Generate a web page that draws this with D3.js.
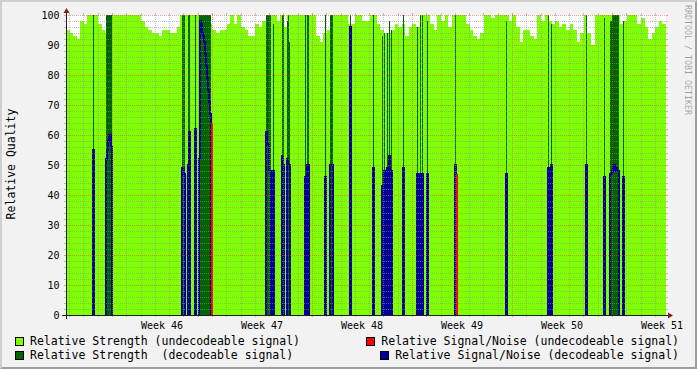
<!DOCTYPE html>
<html>
<head>
<meta charset="utf-8">
<script src="https://cdn.jsdelivr.net/npm/d3@7"></script>
<style>
  html, body { margin: 0; padding: 0; background: #f2f2f2; }
  svg { display: block; }
  text { font-family: "DejaVu Sans Mono", monospace; fill: #000; }
</style>
</head>
<body>
<svg id="graph" width="697" height="369"></svg>
<script>
// first sample of the graph (UTC), all data times are hours after this
var startTime = Date.UTC(2012, 10, 8, 18, 42);
var spanHours = 1008;

// relative strength while the signal was not decodeable, one value every 6 hours
var strengthStepHours = 6;
var strengthUndecodeable = [
  95, 94, 93, 92, 98, 97, 100, 100, 100, 97, 95, 94, 100, 100, 100, 100, 100, 100, 100, 100, 100, 98, 96, 95, 94, 94, 93, 95,
  95, 94, 94, 96, 100, 100, 100, 100, 100, 100, 100, 100, 97, 95, 94, 95, 95, 97, 100, 97, 100, 96, 95, 93, 93, 97, 96, 98,
  100, 100, 100, 98, 100, 96, 100, 100, 100, 100, 100, 100, 100, 100, 93, 91, 94, 95, 100, 100, 100, 100, 100, 97, 97, 100, 100, 98,
  98, 100, 100, 97, 95, 94, 94, 95, 97, 96, 97, 93, 96, 97, 96, 100, 100, 100, 97, 95, 100, 98, 100, 96, 100, 100, 100, 100,
  97, 95, 93, 92, 94, 100, 100, 99, 100, 100, 100, 100, 98, 100, 96, 91, 95, 95, 93, 92, 100, 98, 100, 98, 97, 98, 96, 97,
  95, 97, 95, 91, 94, 100, 94, 90, 100, 100, 100, 100, 100, 100, 100, 97, 98, 100, 100, 100, 97, 99, 96, 92, 94, 96, 98, 97
];

// periods with a decodeable signal: start hour, then strength and signal/noise per sample
var sampleHours = 1.68;
var decodeable = [
  {t: 45.4,  strength: [100], snr: [55]},
  {t: 68.0,  strength: [100, 100, 100, 100, 100, 100], snr: [52, 55, 58, 60, 60, 56]},
  {t: 195.4, strength: [100, 100, 100], snr: [49, 49, 47]},
  {t: 204.2, strength: [100, 100], snr: [50, 61]},
  {t: 217.2, strength: [100], snr: [62]},
  {t: 223.0, strength: [100, 100, 100, 100, 100, 100, 100, 100, 100, 100, 100, 100],
             snr: [52, 98, 97, 94, 93, 91, 87, 83, 79, 75, 71, 67]},
  {t: 336.6, strength: [100, 100, 100, 100, 100], snr: [61, 57, 57, 48, 48]},
  {t: 348.3, strength: [97], snr: [48]},
  {t: 363.4, strength: [100, 100], snr: [53, 50]},
  {t: 370.8, strength: [98, 100, 91], snr: [52, 50, 50]},
  {t: 401.5, strength: [100], snr: [46]},
  {t: 404.9, strength: [100, 100], snr: [50, 50]},
  {t: 435.6, strength: [100], snr: [46]},
  {t: 443.0, strength: [100, 100, 100], snr: [50, 50, 50]},
  {t: 477.6, strength: [100], snr: [96]},
  {t: 515.4, strength: [100], snr: [49]},
  {t: 530.9, strength: [93], snr: [43]},
  {t: 534.7, strength: [94], snr: [48]},
  {t: 538.9, strength: [94], snr: [49]},
  {t: 542.1, strength: [98], snr: [53]},
  {t: 545.7, strength: [95], snr: [48]},
  {t: 565.6, strength: [100], snr: [49]},
  {t: 590.3, strength: [96], snr: [47]},
  {t: 594.7, strength: [100], snr: [47]},
  {t: 598.1, strength: [100], snr: [47]},
  {t: 606.5, strength: [98], snr: [47]},
  {t: 653.5, strength: [100], snr: [50]},
  {t: 740.0, strength: [98], snr: [47]},
  {t: 809.0, strength: [100], snr: [49]},
  {t: 815.3, strength: [97], snr: [50]},
  {t: 873.0, strength: [100], snr: [50]},
  {t: 903.8, strength: [99], snr: [46]},
  {t: 914.4, strength: [98, 98, 100, 100, 100, 100, 100, 100, 100], snr: [47, 47, 48, 50, 50, 48, 49, 48, 48]},
  {t: 935.0, strength: [98], snr: [46]}
];

// signal/noise samples while the signal was not decodeable (hour, value)
var undecodeableSnr = [
  {t: 243.2, snr: 64},
  {t: 655.2, snr: 47}
];

var yTicks = [0, 10, 20, 30, 40, 50, 60, 70, 80, 90, 100];
var legendLeft = ["Relative Strength (undecodeable signal)", "Relative Strength  (decodeable signal)"];
var legendRight = ["Relative Signal/Noise (undecodeable signal)", "Relative Signal/Noise (decodeable signal)"];
var colors = {light: "#80ff00", dark: "#006400", red: "#ff0000", blue: "#000099"};

var svg = d3.select("#graph"),
    W = +svg.attr("width"), H = +svg.attr("height"),
    margin = {top: 15, left: 66},
    width = 600, height = 300;

function at(h) { return new Date(startTime + h * 3600e3); }

var x = d3.scaleUtc().domain([at(0), at(spanHours)]).range([margin.left, margin.left + width]);
var y = d3.scaleLinear().domain([0, 100]).range([margin.top + height, margin.top]);
var X0 = margin.left, X1 = margin.left + width, Y0 = margin.top + height, Y1 = margin.top;

// background + 3d shade
svg.append("rect").attr("width", W).attr("height", H).attr("fill", "#f2f2f2");
svg.append("path").attr("d", "M0,0H" + W + "L" + (W - 2) + ",2H2V" + (H - 2) + "L0," + H + "Z").attr("fill", "#cfcfcf");
svg.append("path").attr("d", "M" + W + ",0V" + H + "H0L2," + (H - 2) + "H" + (W - 2) + "V2Z").attr("fill", "#9e9e9e");

// canvas
svg.append("rect").attr("x", X0).attr("y", Y1).attr("width", width).attr("height", height).attr("fill", "#fff");

var data = svg.append("g").attr("shape-rendering", "crispEdges");

var area = d3.area().curve(d3.curveStepAfter)
    .x(function(d) { return x(at(d.t)); })
    .y0(y(0))
    .y1(function(d) { return y(d.v); });

var line = d3.line().curve(d3.curveStepAfter)
    .x(function(d) { return x(at(d.t)); })
    .y(function(d) { return y(d.v); });

// step series -> points, closing with one extra point at the end
function steps(t0, step, values) {
  var pts = values.map(function(v, i) { return {t: t0 + i * step, v: v}; });
  pts.push({t: t0 + values.length * step, v: values[values.length - 1]});
  return pts;
}
// burst drawn as a line going up from zero and back down
function burst(t0, values) {
  var pts = [{t: t0, v: 0}];
  values.forEach(function(v, i) { pts.push({t: t0 + i * sampleHours, v: v}); });
  pts.push({t: t0 + values.length * sampleHours, v: 0});
  return pts;
}

data.append("path")
    .attr("d", area(steps(0, strengthStepHours, strengthUndecodeable)))
    .attr("fill", colors.light);

data.selectAll(".dec").data(decodeable).enter().append("path")
    .attr("class", "dec")
    .attr("d", function(d) { return area(steps(d.t, sampleHours, d.strength)); })
    .attr("fill", colors.dark);

data.selectAll(".snr").data(decodeable).enter().append("path")
    .attr("class", "snr")
    .attr("d", function(d) { return line(burst(d.t, d.snr)); })
    .attr("fill", "none").attr("stroke", colors.blue).attr("stroke-width", 2);

// undecodeable s/n: the line drops back to zero in red
data.selectAll(".snru").data(undecodeableSnr).enter().append("line")
    .attr("class", "snru")
    .attr("x1", function(d) { return Math.round(x(at(d.t))) + 1; })
    .attr("x2", function(d) { return Math.round(x(at(d.t))) + 1; })
    .attr("y1", function(d) { return y(d.snr); })
    .attr("y2", y(0))
    .attr("stroke", colors.red).attr("stroke-width", 2);

// grid (on top, rrdtool style: dotted inside, solid 2px ticks outside)
var grid = svg.append("g").attr("shape-rendering", "crispEdges");
var minorCol = "rgba(143,143,143,0.55)", majorCol = "rgba(222,79,79,0.55)";

function hLine(py, col) {
  grid.append("line").attr("x1", X0).attr("x2", X1).attr("y1", py).attr("y2", py)
      .attr("stroke", col).attr("stroke-dasharray", "1,1");
  grid.append("line").attr("x1", X0 - 2).attr("x2", X0).attr("y1", py).attr("y2", py).attr("stroke", col);
  grid.append("line").attr("x1", X1).attr("x2", X1 + 2).attr("y1", py).attr("y2", py).attr("stroke", col);
}
function vLine(px, col) {
  grid.append("line").attr("x1", px).attr("x2", px).attr("y1", Y1).attr("y2", Y0)
      .attr("stroke", col).attr("stroke-dasharray", "1,1");
  grid.append("line").attr("x1", px).attr("x2", px).attr("y1", Y0).attr("y2", Y0 + 2).attr("stroke", col);
  grid.append("line").attr("x1", px).attr("x2", px).attr("y1", Y1 - 2).attr("y2", Y1).attr("stroke", col);
}

d3.range(0, 101, 2).forEach(function(v) {
  if (v % 10 === 0) return;
  hLine(Math.round(y(v)) + 0.5, minorCol);
});
yTicks.forEach(function(v) { hLine(Math.round(y(v)) + 0.5, majorCol); });

var days = d3.utcDay.range(x.domain()[0], x.domain()[1]);
days.forEach(function(d) {
  if (d.getUTCDay() === 1) return;
  vLine(Math.round(x(d)) + 0.5, minorCol);
});
var mondays = d3.utcMonday.range(x.domain()[0], x.domain()[1]);
mondays.forEach(function(d) { vLine(Math.round(x(d)) + 0.5, majorCol); });

// axes + arrows
var axisCol = "#1f1f1f", arrowCol = "#801f1f";
svg.append("line").attr("x1", X0 - 4).attr("x2", X1 + 4).attr("y1", Y0 + 0.5).attr("y2", Y0 + 0.5)
    .attr("stroke", axisCol).attr("shape-rendering", "crispEdges");
svg.append("line").attr("x1", X0 + 0.5).attr("x2", X0 + 0.5).attr("y1", Y0 + 4).attr("y2", Y1 - 4)
    .attr("stroke", axisCol).attr("shape-rendering", "crispEdges");
svg.append("path").attr("fill", arrowCol)
    .attr("d", "M" + (X0 - 2.5) + "," + (Y1 - 2) + "L" + (X0 + 3.5) + "," + (Y1 - 2) + "L" + (X0 + 0.5) + "," + (Y1 - 7) + "Z");
svg.append("path").attr("fill", arrowCol)
    .attr("d", "M" + (X1 + 2) + "," + (Y0 - 2.5) + "L" + (X1 + 2) + "," + (Y0 + 3.5) + "L" + (X1 + 7) + "," + (Y0 + 0.5) + "Z");

// y tick labels
svg.append("g").selectAll("text").data(yTicks).enter().append("text")
    .attr("x", X0 - 6.5).attr("y", function(v) { return y(v); }).attr("dy", "0.36em")
    .attr("text-anchor", "end").style("font-size", "10px")
    .text(function(v) { return v; });

// x labels centred in each week
var weekFmt = d3.utcFormat("%V");
svg.append("g").selectAll("text")
    .data(mondays.filter(function(d) { return x(d3.utcHour.offset(d, 84)) <= X1; }))
    .enter().append("text")
    .attr("x", function(d) { return x(d3.utcHour.offset(d, 84)); })
    .attr("y", 329).attr("text-anchor", "middle").style("font-size", "10px")
    .text(function(d) { return "Week " + weekFmt(d); });

// vertical title
svg.append("text").attr("transform", "translate(15,164) rotate(-90)")
    .attr("text-anchor", "middle").style("font-size", "11.5px").text("Relative Quality");

// watermark
svg.append("text").attr("transform", "translate(685,5) rotate(90)")
    .attr("text-anchor", "start").style("font-size", "8.3px").style("fill", "rgba(0,0,0,0.35)")
    .text("RRDTOOL / TOBI OETIKER");

// legend
var legendRows = [345, 359];
var leftCols = [colors.light, colors.dark];
var rightCols = [colors.red, colors.blue];
legendLeft.forEach(function(label, i) {
  svg.append("rect").attr("x", 15.5).attr("y", legendRows[i] - 7.5).attr("width", 8).attr("height", 8)
      .attr("fill", leftCols[i]).attr("stroke", "#000").attr("shape-rendering", "crispEdges");
  svg.append("text").attr("x", 30).attr("y", legendRows[i]).style("font-size", "11.5px")
      .attr("xml:space", "preserve").text(label);
});
legendRight.forEach(function(label, i) {
  var t = svg.append("text").attr("x", 679).attr("y", legendRows[i]).attr("text-anchor", "end")
      .style("font-size", "11.5px").text(label);
  var len = t.node().getComputedTextLength();
  svg.append("rect").attr("x", Math.round(679 - len - 15) + 0.5).attr("y", legendRows[i] - 7.5)
      .attr("width", 8).attr("height", 8)
      .attr("fill", rightCols[i]).attr("stroke", "#000").attr("shape-rendering", "crispEdges");
});
</script>
</body>
</html>
